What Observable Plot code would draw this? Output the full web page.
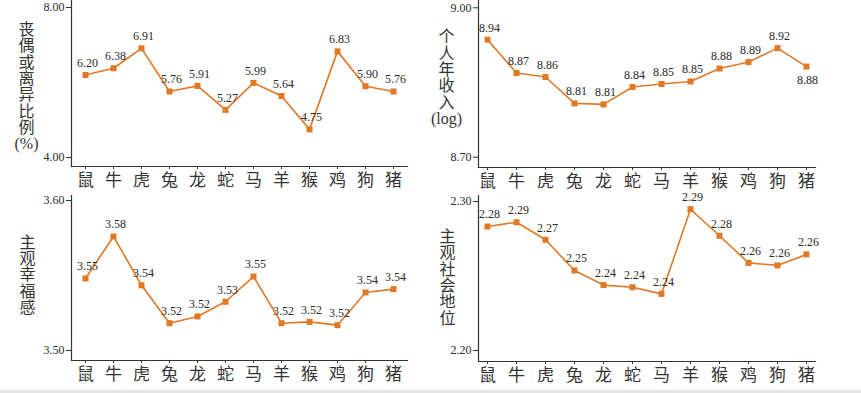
<!DOCTYPE html>
<html><head><meta charset="utf-8">
<script src="https://cdn.jsdelivr.net/npm/d3@7"></script>
<script src="https://cdn.jsdelivr.net/npm/@observablehq/plot@0.6"></script>
<style>
body{margin:0;background:#fff;}
#wrap{position:relative;width:861px;height:393px;overflow:hidden;font-family:"Liberation Serif","Noto Sans CJK SC",serif;}
.panel{position:absolute;}
#strip{position:absolute;left:0;top:390px;width:861px;height:3px;background:#e4e4e4;}
</style></head><body><div id="wrap"><div id="strip"></div></div>
<script>
const zodiac = ["鼠","牛","虎","兔","龙","蛇","马","羊","猴","鸡","狗","猪"];
const divorceRate = [6.20, 6.38, 6.91, 5.76, 5.91, 5.27, 5.99, 5.64, 4.75, 6.83, 5.90, 5.76];
const logIncome = [8.936, 8.869, 8.861, 8.808, 8.806, 8.841, 8.847, 8.852, 8.878, 8.891, 8.919, 8.882];
const happiness = [3.548, 3.576, 3.5435, 3.5182, 3.5227, 3.5325, 3.5493, 3.5182, 3.5191, 3.5169, 3.5387, 3.5409];
const socialStatus = [2.2832, 2.2861, 2.2743, 2.2537, 2.2439, 2.2425, 2.2380, 2.2948, 2.2770, 2.2588, 2.2571, 2.2645];

const title1 = ["丧","偶","或","离","异","比","例","(%)"];
const title2 = ["个","人","年","收","入","(log)"];
const title3 = ["主","观","幸","福","感"];
const title4 = ["主","观","社","会","地","位"];

const ticks1 = [4, 8];
const ticks2 = [8.7, 9.0];
const ticks3 = [3.5, 3.6];
const ticks4 = [2.2, 2.3];

const color = "#E07826";
const ink = "#2a2a2a";
const fontFamily = '"Liberation Serif","Noto Sans CJK SC",serif';

const panels = [
  {values: divorceRate, title: title1, ticks: ticks1, left: 0, top: 0, width: 430, height: 193,
   mL: 71, mR: 23, mT: 0, mB: 27, yRange: [157, 7], tdx: -45, tdy: 3.5, below: []},
  {values: logIncome, title: title2, ticks: ticks2, left: 430, top: 0, width: 431, height: 193,
   mL: 48, mR: 46, mT: 0, mB: 26, yRange: [156.7, 7.3], tdx: -32, tdy: -6, below: [11]},
  {values: happiness, title: title3, ticks: ticks3, left: 0, top: 193, width: 430, height: 200,
   mL: 71, mR: 23, mT: 2, mB: 33, yRange: [157, 7], tdx: -44, tdy: -3, below: []},
  {values: socialStatus, title: title4, ticks: ticks4, left: 430, top: 193, width: 431, height: 200,
   mL: 48, mR: 46, mT: 2, mB: 32, yRange: [157, 8], tdx: -31, tdy: -1, below: []}
];

const wrap = document.getElementById("wrap");
for (const p of panels) {
  const data = zodiac.map((c, i) => ({cat: c, v: p.values[i], i}));
  const fmt = d3.format(".2f");
  const chart = Plot.plot({
    width: p.width, height: p.height,
    marginLeft: p.mL, marginRight: p.mR, marginTop: p.mT, marginBottom: p.mB,
    style: {fontFamily, background: "transparent", overflow: "visible", color: ink},
    x: {type: "point", domain: zodiac, padding: 0.3},
    y: {domain: [p.ticks[0], p.ticks[1]], range: p.yRange},
    marks: [
      Plot.frame({anchor: "left", stroke: "#333", strokeWidth: 1.2}),
      Plot.frame({anchor: "bottom", stroke: "#333", strokeWidth: 1.2}),
      Plot.axisY({ticks: p.ticks, tickFormat: fmt, tickSize: 5, tickPadding: 2, fontSize: 12, label: null, stroke: "#333"}),
      Plot.axisX({tickSize: 3, tickPadding: 4, fontSize: 17, label: null, stroke: "#333", fill: "#333"}),
      Plot.text([p.title.join("\n")], {frameAnchor: "left", text: d => d, dx: p.tdx, dy: p.tdy,
        lineHeight: 1.02, fontSize: 16, textAnchor: "middle", fill: "#333"}),
      Plot.line(data, {x: "cat", y: "v", stroke: color, strokeWidth: 1.6}),
      Plot.dot(data, {x: "cat", y: "v", symbol: "square", r: 3.4, fill: color, stroke: "none"}),
      Plot.text(data.filter(d => !p.below.includes(d.i)), {x: "cat", y: "v", text: d => fmt(d.v), dx: 2, dy: -12, fontSize: 12, fill: ink}),
      Plot.text(data.filter(d => p.below.includes(d.i)), {x: "cat", y: "v", text: d => fmt(d.v), dx: 1, dy: 14, fontSize: 12, fill: ink})
    ]
  });
  const div = document.createElement("div");
  div.className = "panel";
  div.style.left = p.left + "px";
  div.style.top = p.top + "px";
  div.appendChild(chart);
  wrap.appendChild(div);
}
</script>
</body></html>
